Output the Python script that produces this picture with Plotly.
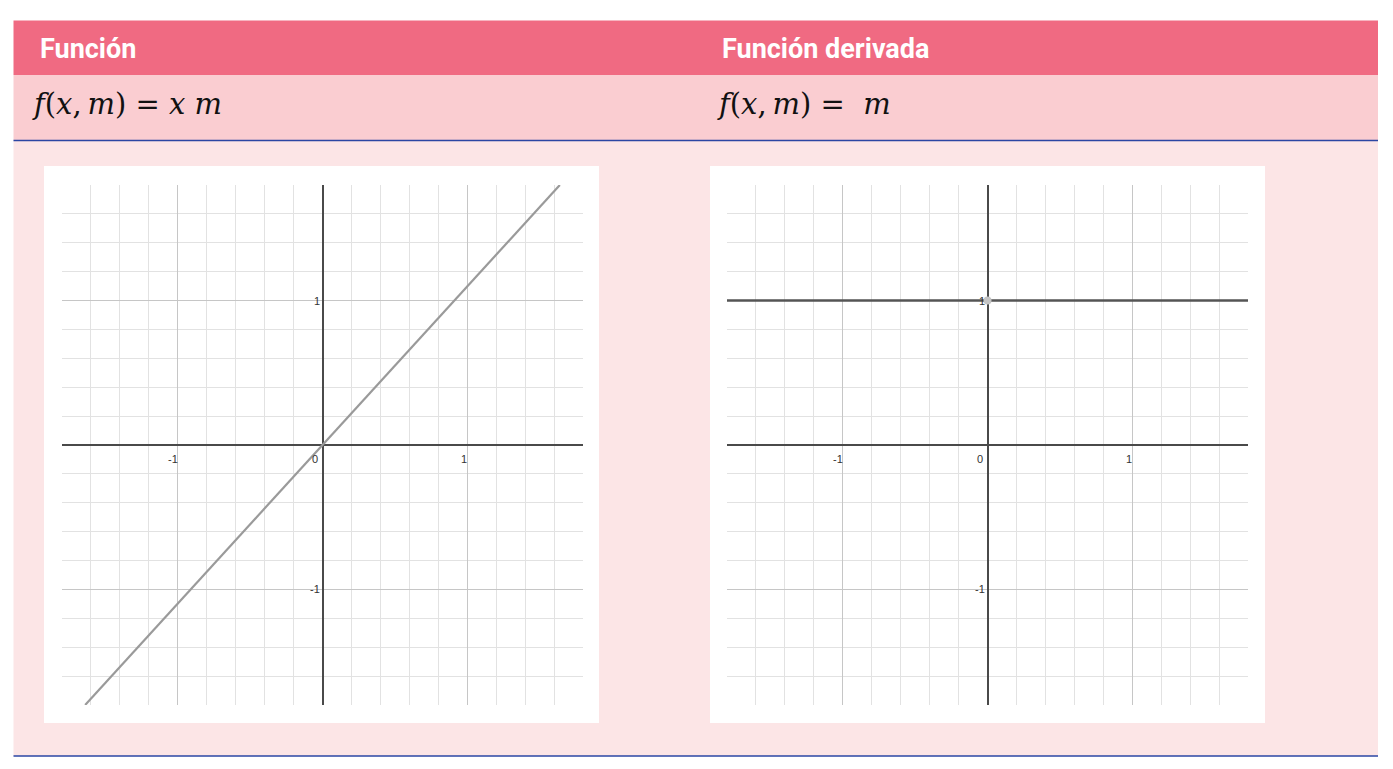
import plotly.graph_objects as go

W, H = 1393, 769

# ---- data ----
headers = ["Función", "Función derivada"]
formulas = ["<i>f</i>(<i>x</i>,\u2009<i>m</i>)\u00a0=\u00a0<i>x</i>\u00a0<i>m</i>",
            "<i>f</i>(<i>x</i>,\u2009<i>m</i>)\u00a0=\u00a0\u00a0<i>m</i>"]
func_x = [-1.64, 1.64]
func_y = [-1.8, 1.8]
deriv_x = [-1.8, 1.8]
deriv_y = [1, 1]
deriv_point_x = [0]
deriv_point_y = [1]
x_tick_vals = [-1, 0, 1]
x_tick_text = ["-1", "0", "1"]
y_tick_vals = [1, -1]
y_tick_text = ["1", "-1"]
axis_range = [-1.8, 1.8]

# ---- helpers (pixel -> paper) ----
def fx(p):
    return p / W

def fy(p):
    return 1 - p / H

fig = go.Figure()

fig.add_trace(go.Scatter(x=func_x, y=func_y, mode="lines",
                         line=dict(color="#9a9a9a", width=2.2),
                         xaxis="x", yaxis="y", hoverinfo="skip", showlegend=False))
fig.add_trace(go.Scatter(x=deriv_x, y=deriv_y, mode="lines",
                         line=dict(color="#555555", width=2.5),
                         xaxis="x2", yaxis="y2", hoverinfo="skip", showlegend=False))
fig.add_trace(go.Scatter(x=deriv_point_x, y=deriv_point_y, mode="markers",
                         marker=dict(color="#c4c4c4", size=8),
                         xaxis="x2", yaxis="y2", hoverinfo="skip", showlegend=False))

axis_common = dict(range=axis_range, dtick=1, tick0=0, showticklabels=False,
                   showgrid=True, gridcolor="#c6c6c6", gridwidth=1.2,
                   minor=dict(dtick=0.2, tick0=0, showgrid=True, gridcolor="#e2e2e2", gridwidth=1),
                   zeroline=True, zerolinecolor="#4a4a4a", zerolinewidth=2.3,
                   showline=False, ticks="", fixedrange=True)

ydom = [fy(705), fy(185)]
fig.update_layout(
    xaxis=dict(domain=[fx(62), fx(583)], anchor="y", **axis_common),
    yaxis=dict(domain=ydom, anchor="x", **axis_common),
    xaxis2=dict(domain=[fx(727), fx(1248)], anchor="y2", **axis_common),
    yaxis2=dict(domain=ydom, anchor="x2", **axis_common),
)

shapes = []
def rect(x0, y0, x1, y1, color):
    shapes.append(dict(type="rect", xref="paper", yref="paper",
                       x0=fx(x0), x1=fx(x1), y0=fy(y1), y1=fy(y0),
                       fillcolor=color, line=dict(width=0), layer="below"))

rect(13.5, 20.5, 1378, 75, "#F06A82")
rect(13.5, 75, 1378, 140, "#FACDD1")
rect(13.5, 140, 1378, 756, "#FCE5E6")
rect(44, 166, 599, 723, "#FFFFFF")
rect(710, 166, 1265, 723, "#FFFFFF")
for yy in (140.5, 756):
    shapes.append(dict(type="line", xref="paper", yref="paper",
                       x0=fx(13.5), x1=fx(1378), y0=fy(yy), y1=fy(yy),
                       line=dict(color="#2B46A3", width=1.3), layer="above"))

annotations = []
for hx, txt in zip([38, 720], headers):
    annotations.append(dict(xref="paper", yref="paper", x=fx(hx), y=fy(49),
                            xanchor="left", yanchor="middle", showarrow=False,
                            text="<b>" + txt + "</b>",
                            font=dict(family="Roboto", size=27, color="white")))
for fxp, txt in zip([30, 715], formulas):
    annotations.append(dict(xref="paper", yref="paper", x=fx(fxp), y=fy(104),
                            xanchor="left", yanchor="middle", showarrow=False,
                            text=txt,
                            font=dict(family="DejaVu Serif", size=29, color="#111111")))

tick_font = dict(family="Liberation Sans", size=11, color="#333333")
for xa, ya in (("x", "y"), ("x2", "y2")):
    for v, t in zip(x_tick_vals, x_tick_text):
        annotations.append(dict(xref=xa, yref=ya, x=v, y=0, xanchor="right", yanchor="top",
                                xshift=2 if v != 0 else -3, yshift=-6, showarrow=False, text=t, font=tick_font))
    for v, t in zip(y_tick_vals, y_tick_text):
        annotations.append(dict(xref=xa, yref=ya, x=0, y=v, xanchor="right", yanchor="middle",
                                xshift=-1, showarrow=False, text=t, font=tick_font))

fig.update_layout(
    width=W, height=H, margin=dict(l=0, r=0, t=0, b=0),
    paper_bgcolor="white", plot_bgcolor="white",
    shapes=shapes, annotations=annotations, showlegend=False,
)

fig.write_html("out.html", config={"displayModeBar": False},
               post_script="document.body.style.margin='0';")
